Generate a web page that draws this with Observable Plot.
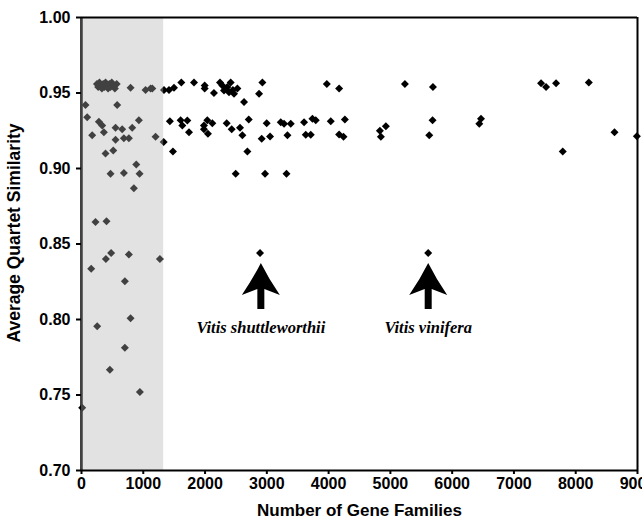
<!DOCTYPE html>
<html>
<head>
<meta charset="utf-8">
<script src="https://cdn.jsdelivr.net/npm/d3@7"></script>
<script src="https://cdn.jsdelivr.net/npm/@observablehq/plot@0.6"></script>
<style>
  html, body { margin: 0; padding: 0; background: #fff; }
</style>
</head>
<body>
<div id="chart"></div>
<script>
// ---- data ----
const geneFamilies = [
  // shaded region (< ~1330 gene families)
  250, 270, 290, 310, 330, 350, 370, 390, 410, 430, 450, 470, 490, 510, 540, 570,
  794, 1037, 1118, 1146,
  65, 578, 92, 281, 335, 362, 173, 551, 659, 821, 929, 551, 686, 767, 1199, 1330,
  389, 514, 470, 686, 886, 940, 848, 227, 405, 395, 480, 767, 157, 1269, 702,
  794, 254, 702, 459, 945, 11,
  // right of the shaded region
  1335, 1416, 1497, 1616, 1821, 1994, 1994, 2144, 2242, 2280, 2307, 2361, 2388, 2415, 2450,
  2469, 2523, 2631, 2874, 2928, 3971, 4170, 5235, 5689, 7439, 7520, 7682, 8212,
  1431, 1605, 1713, 1632, 1740, 1982, 2037, 2118, 1982, 2047, 2350, 2431, 2566, 2604,
  2707, 2685, 2998, 2917, 3052, 3225, 3279, 3387, 3334, 3603, 3738, 3792, 3630, 3711,
  4035, 4263, 4170, 4241, 4927, 4830, 4846, 5683, 5629, 6467, 6439, 7790, 8628, 8990,
  1480, 2496, 2971, 3318,
  2890, 5612
];
const similarity = [
  0.956, 0.954, 0.957, 0.955, 0.953, 0.956, 0.954, 0.957, 0.955, 0.953, 0.956, 0.954, 0.957, 0.955, 0.953, 0.956,
  0.9535, 0.952, 0.953, 0.953,
  0.942, 0.942, 0.934, 0.931, 0.9285, 0.924, 0.922, 0.927, 0.926, 0.927, 0.932, 0.919, 0.920, 0.920, 0.921, 0.9175,
  0.910, 0.912, 0.8965, 0.897, 0.9027, 0.8965, 0.887, 0.8645, 0.865, 0.840, 0.844, 0.843, 0.8336, 0.840, 0.8254,
  0.8009, 0.7955, 0.7813, 0.7668, 0.752, 0.7416,
  0.952, 0.952, 0.9535, 0.957, 0.957, 0.955, 0.953, 0.950, 0.957, 0.955, 0.9517, 0.954, 0.9505, 0.957, 0.952,
  0.9495, 0.953, 0.944, 0.9495, 0.957, 0.956, 0.953, 0.956, 0.954, 0.9565, 0.954, 0.9565, 0.957,
  0.9313, 0.932, 0.9318, 0.9285, 0.924, 0.9285, 0.932, 0.930, 0.926, 0.923, 0.930, 0.926, 0.927, 0.922,
  0.9325, 0.9113, 0.930, 0.9197, 0.9212, 0.9307, 0.9296, 0.9296, 0.922, 0.9307, 0.933, 0.932, 0.9223, 0.9223,
  0.9313, 0.9325, 0.9225, 0.921, 0.928, 0.925, 0.921, 0.932, 0.922, 0.933, 0.9296, 0.9113, 0.924, 0.9214,
  0.9113, 0.8965, 0.8965, 0.8965,
  0.844, 0.844
];

const shadedFrom = 0;
const shadedTo = 1330;

const speciesNames = ["Vitis shuttleworthii", "Vitis vinifera"];
const speciesX = [2903, 5612];
const arrowTipY = [0.8375, 0.8375];
const labelY = [0.7945, 0.7945];

const xTicks = [0, 1000, 2000, 3000, 4000, 5000, 6000, 7000, 8000, 9000];
const yTicks = [0.70, 0.75, 0.80, 0.85, 0.90, 0.95, 1.00];
const xTitle = "Number of Gene Families";
const yTitle = "Average Quartet Similarity";

// ---- build tables ----
const points = geneFamilies.map((g, i) => ({g, s: similarity[i]}));
const species = speciesNames.map((name, i) => ({name, x: speciesX[i], tip: arrowTipY[i], ly: labelY[i]}));
const shade = [{x1: shadedFrom, x2: shadedTo}];

// filled arrow (tip at the anchor, pointing up)
const arrowSymbol = {
  draw(ctx) {
    ctx.moveTo(0, 0);
    ctx.quadraticCurveTo(8, 16, 19, 32);
    ctx.lineTo(3.5, 26);
    ctx.lineTo(3.5, 46);
    ctx.lineTo(-3.5, 46);
    ctx.lineTo(-3.5, 26);
    ctx.lineTo(-19, 32);
    ctx.quadraticCurveTo(-8, 16, 0, 0);
    ctx.closePath();
  }
};

const chart = Plot.plot({
  width: 642,
  height: 521,
  marginLeft: 81,
  marginRight: 5,
  marginTop: 17,
  marginBottom: 51,
  style: {fontFamily: "'Liberation Sans', Arial, sans-serif", fontSize: "16px", fontWeight: "bold", color: "black", background: "white"},
  x: {domain: [0, 9000]},
  y: {domain: [0.70, 1.00]},
  marks: [
    Plot.dot(points, {x: "g", y: "s", symbol: "diamond2", r: 3.6, fill: "black", stroke: "none"}),
    Plot.ruleX([0], {stroke: "black", strokeWidth: 2.5}),
    Plot.rect(shade, {x1: "x1", x2: "x2", y1: 0.70, y2: 1.00, fill: "#b1b1b1", fillOpacity: 0.37}),
    Plot.ruleY([1.00], {stroke: "black", strokeWidth: 2}),
    Plot.ruleY([0.70], {stroke: "black", strokeWidth: 2}),
    Plot.ruleX([9000], {stroke: "black", strokeWidth: 2}),
    Plot.axisX({ticks: xTicks, tickFormat: "d", tickSize: 4, tickPadding: 3, label: null, stroke: "black", strokeWidth: 2}),
    Plot.axisY({ticks: yTicks, tickFormat: ".2f", tickSize: 5, tickPadding: 6, label: null, stroke: "black", strokeWidth: 2}),
    Plot.dot(species, {x: "x", y: "tip", symbol: arrowSymbol, r: 5, fill: "black", stroke: "none"}),
    Plot.text(species, {x: "x", y: "ly", text: "name", fontFamily: "'Liberation Serif', 'Times New Roman', serif", fontStyle: "italic", fontWeight: "bold", fontSize: 16.5}),
    Plot.text([xTitle], {frameAnchor: "bottom", textAnchor: "middle", lineAnchor: "middle", dy: 40, fontSize: 17, fontWeight: "bold"}),
    Plot.text([yTitle], {frameAnchor: "left", textAnchor: "middle", lineAnchor: "middle", rotate: -90, dx: -67, dy: -11, fontSize: 17.5, fontWeight: "bold"})
  ]
});
document.getElementById("chart").appendChild(chart);
</script>
</body>
</html>
